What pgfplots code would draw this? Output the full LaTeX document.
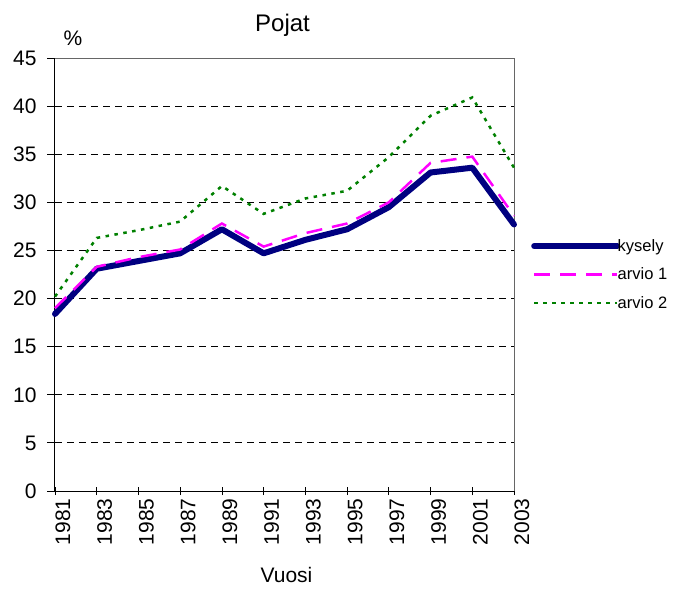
\documentclass[border=0pt]{standalone}
\usepackage{pgfplots}
\pgfplotsset{compat=1.18}
\usepackage{fontspec}
\setmainfont{Liberation Sans}
\definecolor{navyk}{RGB}{0,0,128}
\definecolor{magk}{RGB}{255,0,255}
\definecolor{greenk}{RGB}{0,128,0}
\begin{document}
\begin{tikzpicture}
\begin{axis}[
  scale only axis,
  width=459pt, height=433pt,
  xmin=1981, xmax=2003, ymin=0, ymax=45,
  xtick={1981,1983,...,2003},
  ytick={0,5,...,45},
  /pgf/number format/assume math mode=true,
  /pgf/number format/1000 sep={},
  font=\fontsize{21}{25}\selectfont,
  ticklabel style={font=\fontsize{21}{25}\selectfont},
  xticklabel style={rotate=90, anchor=east, yshift=-8pt},
  yticklabel style={xshift=-7pt},
  axis x line*=bottom, axis y line*=left,
  axis line style={black, line width=1pt, -},
  xtick align=center, ytick align=outside,
  major tick length=8pt,
  tick style={black, line width=0.8pt},
  ymajorgrids,
  major grid style={black, line width=0.8pt, dash pattern=on 7pt off 5pt},
  legend style={at={(1,0.5)}, anchor=west, xshift=17pt, draw=none, fill=none,
    font=\fontsize{16.5}{19}\selectfont, row sep=11pt, column sep=-3pt,
    inner xsep=0pt, inner ysep=0pt, nodes={inner xsep=0.5pt}},
  legend cell align=left,
  legend image code/.code={\draw[#1] (0pt,0pt) -- (83pt,0pt);},
  clip=false,
]
\draw[gray!80!black, line width=0.8pt] (rel axis cs:0,1) -- (rel axis cs:1,1) -- (rel axis cs:1,0);
\addplot[navyk, line width=6pt, line join=round, line cap=round] coordinates {
(1981,18.4) (1983,23.1) (1985,23.9) (1987,24.7) (1989,27.2) (1991,24.7)
(1993,26.1) (1995,27.2) (1997,29.5) (1999,33.1) (2001,33.6) (2003,27.7)};
\addlegendentry{kysely}
\addplot[magk, line width=2.5pt, dash pattern=on 16pt off 10pt] coordinates {
(1981,19.0) (1983,23.3) (1985,24.3) (1987,25.1) (1989,27.8) (1991,25.4)
(1993,26.8) (1995,27.8) (1997,30.0) (1999,34.1) (2001,34.75) (2003,28.6)};
\addlegendentry{arvio 1}
\addplot[greenk, line width=2.5pt, dash pattern=on 3.5pt off 5.5pt] coordinates {
(1981,20.2) (1983,26.3) (1985,27.1) (1987,28.0) (1989,31.7) (1991,28.8)
(1993,30.4) (1995,31.2) (1997,34.7) (1999,39.0) (2001,40.9) (2003,33.6)};
\addlegendentry{arvio 2}
\node[anchor=base, font=\fontsize{24}{28}\selectfont] at ([xshift=-2pt,yshift=26pt]rel axis cs:0.5,1) {Pojat};
\node[anchor=base, font=\fontsize{21}{25}\selectfont] at ([xshift=18pt,yshift=12pt]rel axis cs:0,1) {\%};
\node[anchor=base, font=\fontsize{21}{25}\selectfont] at ([xshift=2pt,yshift=-91pt]rel axis cs:0.5,0) {Vuosi};
\coordinate (sw) at (rel axis cs:0,0);
\coordinate (ne) at (rel axis cs:1,1);
\end{axis}
\pgfresetboundingbox
\path[use as bounding box] ([shift={(-55pt,-98pt)}]sw) rectangle ([shift={(166pt,58pt)}]ne);
\end{tikzpicture}
\end{document}
